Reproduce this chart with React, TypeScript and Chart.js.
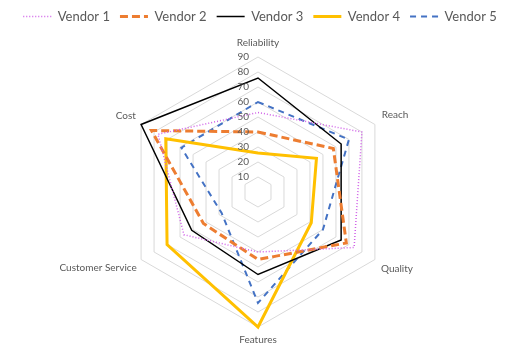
import React, { useEffect, useRef } from "react";
import { Chart, registerables } from "chart.js";

Chart.register(...registerables);

const categories = ["Reliability", "Reach", "Quality", "Features", "Customer Service", "Cost"];
const seriesNames = ["Vendor 1", "Vendor 2", "Vendor 3", "Vendor 4", "Vendor 5"];
const vendor1 = [53, 80, 74, 40, 57, 77];
const vendor2 = [40, 58, 68, 45, 42, 82];
const vendor3 = [76, 64, 64, 55, 51, 90];
const vendor4 = [26, 45, 41, 90, 70, 71];
const vendor5 = [60, 70, 50, 74, 28, 59];
const scaleMin = 0;
const scaleMax = 90;
const scaleStep = 10;

const FONT = "Lato, 'Liberation Sans', sans-serif";
const TEXT = "#595959";

const styles = [
  { color: "#d060e8", width: 1.5, dash: [1, 2] },
  { color: "#ed7d31", width: 3, dash: [8, 4] },
  { color: "#000000", width: 1.5, dash: [] },
  { color: "#ffc000", width: 3, dash: [] },
  { color: "#4472c4", width: 2, dash: [6, 5] },
];

const tickLabelPlugin = {
  id: "tickLabelsLeft",
  afterDatasetsDraw(chart: any) {
    const scale = chart.scales.r;
    const ctx = chart.ctx;
    ctx.save();
    ctx.font = `10px ${FONT}`;
    ctx.fillStyle = TEXT;
    ctx.textAlign = "right";
    ctx.textBaseline = "middle";
    scale.ticks.forEach((t: any) => {
      if (t.value <= scaleMin) return;
      const d = scale.getDistanceFromCenterForValue(t.value);
      ctx.fillText(String(t.value), scale.xCenter - 9, scale.yCenter - d);
    });
    ctx.restore();
  },
};

export default function App() {
  const ref = useRef<HTMLCanvasElement>(null);
  useEffect(() => {
    if (!ref.current) return;
    const data = [vendor1, vendor2, vendor3, vendor4, vendor5];
    const labelPad = [8, 8, 7, 7, 5, 6];
    const defaultGen = (Chart as any).defaults.plugins.legend.labels.generateLabels;
    const chart = new Chart(ref.current, {
      type: "radar",
      data: {
        labels: categories,
        datasets: data.map((d, i) => ({
          label: seriesNames[i],
          data: d,
          borderColor: styles[i].color,
          backgroundColor: styles[i].color,
          borderWidth: styles[i].width,
          borderDash: styles[i].dash,
          borderJoinStyle: "miter",
          fill: false,
          pointRadius: 0,
          pointHoverRadius: 0,
          tension: 0,
        })),
      },
      options: {
        responsive: false,
        animation: false,
        layout: { padding: { right: 8 } },
        plugins: {
          legend: {
            position: "top",
            labels: {
              usePointStyle: true,
              pointStyle: "line",
              pointStyleWidth: 28,
              padding: 10,
              color: TEXT,
              font: { family: FONT, size: 13 },
              generateLabels: (c: any) =>
                defaultGen(c).map((item: any) => {
                  const s = styles[item.datasetIndex];
                  return {
                    ...item,
                    strokeStyle: s.color,
                    fillStyle: s.color,
                    lineWidth: s.width,
                    lineDash: s.dash,
                  };
                }),
            },
          },
          tooltip: { enabled: false },
        },
        scales: {
          r: {
            min: scaleMin,
            max: scaleMax,
            afterSetDimensions: (s: any) => {
              s.xCenter = 258;
              s.yCenter = 192;
              s.drawingArea = 135;
            },
            ticks: { display: false, stepSize: scaleStep },
            grid: { color: "#d9d9d9", lineWidth: 1 },
            angleLines: { display: false },
            pointLabels: {
              color: TEXT,
              font: { family: FONT, size: 10 },
              padding: (ctx: any) => labelPad[ctx.index] ?? 6,
            },
          },
        },
      },
      plugins: [tickLabelPlugin],
    } as any);
    return () => chart.destroy();
  }, []);
  return (
    <div style={{ position: "fixed", left: 0, top: 0, width: 528, height: 352, background: "#fff" }}>
      <canvas ref={ref} width={528} height={352} style={{ display: "block" }} />
    </div>
  );
}
